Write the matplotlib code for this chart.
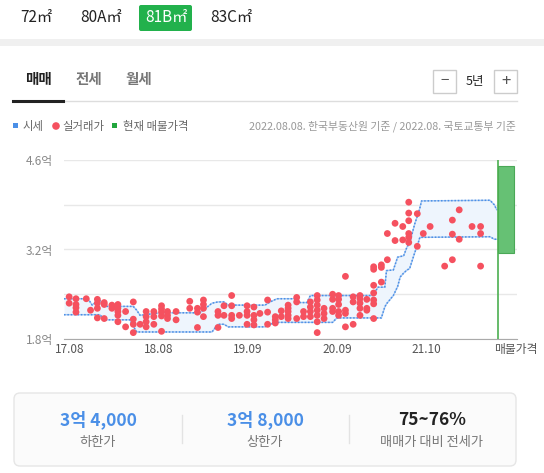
import numpy as np
import matplotlib
matplotlib.use("Agg")
import matplotlib.pyplot as plt
from matplotlib.patches import Rectangle, FancyBboxPatch

plt.rcParams['font.family'] = ['Noto Sans CJK KR', 'DejaVu Sans']

W, H = 544, 473

# area tabs
area_tabs = ['72㎡', '80A㎡', '81B㎡', '83C㎡']
selected_area = '81B㎡'
trade_tabs = ['매매', '전세', '월세']

# x ticks
tick_labels = ['17.08', '18.08', '19.09', '20.09', '21.10']
start_year = 2017.6   # 2017.08.08
tick_step_days = 380
end_year = 2022.6     # 2022.08.08

# 시세 band (억)
band_year = [2017.53, 2017.81, 2017.86, 2017.92, 2017.95, 2018.00, 2018.30, 2018.34,
             2018.38, 2018.42, 2018.65, 2019.12, 2019.26, 2019.33, 2019.40, 2019.45,
             2019.88, 2019.94, 2020.02, 2020.23, 2020.29, 2020.37, 2020.41, 2020.67,
             2020.72, 2021.14, 2021.20, 2021.24, 2021.28, 2021.30, 2021.38, 2021.43,
             2021.46, 2021.50, 2021.54, 2021.57, 2021.63, 2021.67, 2021.69, 2021.71,
             2022.51, 2022.56, 2022.59]
band_upper = [2.43, 2.43, 2.33, 2.40, 2.40, 2.31, 2.31, 2.31,
              2.25, 2.17, 2.21, 2.21, 2.36, 2.38, 2.38, 2.33,
              2.33, 2.38, 2.43, 2.43, 2.37, 2.37, 2.48, 2.48,
              2.48, 2.48, 2.61, 2.61, 2.61, 2.87, 2.88, 3.08,
              3.09, 3.10, 3.24, 3.30, 3.60, 3.76, 3.85, 3.96,
              3.97, 3.90, 3.82]
band_lower = [2.18, 2.18, 2.18, 2.18, 2.18, 2.10, 2.10, 2.00,
              1.91, 1.91, 1.91, 1.91, 1.91, 2.03, 2.03, 1.99,
              1.99, 2.03, 2.06, 2.06, 2.06, 2.06, 2.06, 2.06,
              2.13, 2.13, 2.13, 2.13, 2.30, 2.35, 2.48, 2.62,
              2.77, 2.83, 2.88, 2.90, 3.15, 3.30, 3.39, 3.39,
              3.40, 3.36, 3.36]

# 실거래가 (억)
deal_year = (
    [2017.59] * 2 + [2017.67] * 4 + [2017.79] + [2017.84] + [2017.92] * 4 +
    [2018.00] * 3 + [2018.09] * 2 + [2018.16] * 5 + [2018.25] * 2 + [2018.34] * 4 +
    [2018.42] + [2018.49] * 4 + [2018.58] * 3 + [2018.67] * 5 + [2018.74] * 3 +
    [2018.84] * 2 + [2019.00] * 2 + [2019.09] * 3 + [2019.16] * 4 + [2019.33] * 3 +
    [2019.40] * 2 + [2019.49] * 4 + [2019.58] + [2019.67] * 4 + [2019.75] * 4 +
    [2019.82] + [2019.91] * 3 + [2020.00] * 3 + [2020.07] * 2 + [2020.15] * 5 +
    [2020.25] * 3 + [2020.33] * 2 + [2020.41] * 4 + [2020.49] * 7 + [2020.57] * 3 +
    [2020.67] * 4 + [2020.74] * 5 + [2020.82] * 4 + [2020.91] * 3 + [2020.99] * 5 +
    [2021.07] * 3 + [2021.15] * 7 + [2021.24] * 3 + [2021.31] * 2 + [2021.40] * 2 +
    [2021.49] * 2 + [2021.56] * 6 + [2021.66] * 2 + [2021.73] + [2021.81] +
    [2021.98] + [2022.07] * 3 + [2022.15] * 2 + [2022.30] + [2022.40] * 3
)
deal_price = [
    2.46, 2.36, 2.43, 2.34, 2.29, 2.22, 2.43, 2.25, 2.42, 2.36, 2.28, 2.13,
    2.37, 2.34, 2.12, 2.33, 2.28, 2.34, 2.28, 2.23, 2.17, 2.07, 2.23, 1.99, 2.38, 2.11, 2.03, 1.90,
    2.03, 2.23, 2.15, 2.07, 1.99, 2.23, 2.15, 2.03, 2.32, 2.27, 2.22, 2.16, 1.92, 2.23, 2.17, 2.12,
    2.23, 2.10, 2.39, 2.28, 2.28, 2.22, 1.98, 2.41, 2.34, 2.28, 2.15, 2.23, 2.17, 1.98,
    2.32, 2.17, 2.48, 2.32, 2.17, 2.12, 2.17, 2.32, 2.23, 2.17, 2.03, 2.30, 2.17, 2.10, 2.02,
    2.20, 2.41, 2.22, 2.03, 2.15, 2.10, 2.05, 2.24, 2.15, 2.33, 2.28, 2.23, 2.17, 2.12,
    2.45, 2.38, 2.12, 2.23, 2.15, 2.38, 2.30, 2.23, 2.15, 2.48, 2.41, 2.33, 2.25, 2.17, 2.07, 1.90,
    2.28, 2.20, 2.12, 2.50, 2.42, 2.28, 2.23, 2.48, 2.42, 2.34, 2.23, 2.17, 2.78, 2.25, 2.20, 1.99,
    2.46, 2.38, 2.03, 2.48, 2.43, 2.36, 2.28, 2.17,
    2.42, 2.28, 2.25, 2.93, 2.89, 2.64, 2.52, 2.41, 2.35, 2.12, 2.96, 2.92, 2.69,
    3.45, 3.04, 3.61, 3.34, 3.56, 3.35, 3.94, 3.77, 3.65, 3.45, 3.39, 3.31, 3.76, 3.25,
    3.45, 3.56, 2.94, 3.66, 3.44, 3.04, 3.82, 3.36, 3.56, 3.56, 3.45, 2.94,
]

# 현재 매물가격 (억)
listing_low, listing_high = 3.15, 4.50

# summary
summary_values = ['3억 4,000', '3억 8,000', '75~76%']
summary_labels = ['하한가', '상한가', '매매가 대비 전세가']
summary_colors = ['#4a8fe7', '#4a8fe7', '#222222']

fig = plt.figure(figsize=(W / 100, H / 100), dpi=100)

# background layer in pixel coords
bg = fig.add_axes([0, 0, 1, 1])
bg.set_xlim(0, W)
bg.set_ylim(H, 0)
bg.axis('off')

# area tabs
tab_x = [36, 101, 166, 231]
for x, lab in zip(tab_x, area_tabs):
    if lab == selected_area:
        bg.add_patch(FancyBboxPatch((139, 5), 53, 26, boxstyle="round,pad=0,rounding_size=2",
                                    fc='#22b14c', ec='none'))
        bg.text(x, 18, lab, ha='center', va='center', fontsize=11, color='white')
    else:
        bg.text(x, 18, lab, ha='center', va='center', fontsize=11, color='#222222')
bg.add_patch(Rectangle((0, 39), W, 7, fc='#f0f0f0', ec='none'))

# trade tabs
for x, lab in zip([38, 89, 139], trade_tabs):
    if lab == '매매':
        bg.text(x, 79, lab, ha='center', va='center', fontsize=10.5, weight='bold', color='#222222')
    else:
        bg.text(x, 79, lab, ha='center', va='center', fontsize=10.5, weight='bold', color='#777777')
bg.plot([63, 517], [101, 101], color='#dddddd', lw=1)
bg.plot([13, 63], [101, 101], color='#222222', lw=2.2)

# period control
bg.add_patch(Rectangle((433, 70), 23, 23, fc='white', ec='#cccccc', lw=1))
bg.add_patch(Rectangle((494, 70), 23, 23, fc='white', ec='#cccccc', lw=1))
bg.text(444.5, 81, '−', ha='center', va='center', fontsize=11, color='#555555')
bg.text(505.5, 81, '+', ha='center', va='center', fontsize=12, color='#555555')
bg.text(475, 81, '5년', ha='center', va='center', fontsize=9, color='#222222')

# legend row
bg.add_patch(Rectangle((13, 123), 5, 5, fc='#4a8fe7', ec='none'))
bg.text(23, 126, '시세', ha='left', va='center', fontsize=8.2, color='#666666')
bg.scatter([56], [126], s=30, color='#f5515f', edgecolor='none')
bg.text(62, 126, '실거래가', ha='left', va='center', fontsize=8.2, color='#666666')
bg.add_patch(Rectangle((112, 123), 5, 5, fc='#22a63d', ec='none'))
bg.text(123, 126, '현재 매물가격', ha='left', va='center', fontsize=8.2, color='#666666')
bg.text(516, 126, '2022.08.08. 한국부동산원 기준 / 2022.08. 국토교통부 기준',
        ha='right', va='center', fontsize=7.8, color='#999999')

# summary box
bg.add_patch(FancyBboxPatch((14, 393), 502, 73, boxstyle="round,pad=0,rounding_size=6",
                            fc='#fbfbfb', ec='#e6e6e6', lw=1))
for x, v, lab, c in zip([98, 265, 432], summary_values, summary_labels, summary_colors):
    bg.text(x, 420, v, ha='center', va='center', fontsize=12.5, weight='bold', color=c)
    bg.text(x, 442, lab, ha='center', va='center', fontsize=9.5, color='#777777')
for x in [182, 349]:
    bg.plot([x, x], [415, 443], color='#e3e3e3', lw=1)

# chart
x0 = start_year - 6 / 85.54
x1 = start_year + 447 / 85.54
ax = fig.add_axes([64 / W, 1 - 339 / H, 453 / W, 179 / H])
ax.set_xlim(x0, x1)
ax.set_ylim(1.8, 4.6)

ax.fill_between(band_year, band_lower, band_upper, color='#eef5fd', lw=0, zorder=1)
ax.plot(band_year, band_upper, color='#a9c8f0', lw=1, zorder=2)
ax.plot(band_year, band_lower, color='#a9c8f0', lw=1, zorder=2)
ax.plot(band_year, band_upper, color='#4a8fe7', lw=1.1, ls=(0, (1, 1.2)), zorder=3)
ax.plot(band_year, band_lower, color='#4a8fe7', lw=1.1, ls=(0, (1, 1.2)), zorder=3)

ax.scatter(deal_year, deal_price, s=24, color='#f5515f', edgecolor='none', zorder=4)

bar_w = x1 - end_year - 0.03
ax.bar(end_year, listing_high - listing_low, bottom=listing_low, width=bar_w, align='edge',
       color='#66c174', edgecolor='#4aa857', lw=0.8, zorder=4)
ax.axvline(end_year, color='#4caf50', lw=1.2, zorder=5)

ticks = [start_year + k * tick_step_days / 365.25 for k in range(len(tick_labels))]
ax.set_xticks(ticks + [x1 - 0.02])
ax.set_xticklabels(tick_labels + ['매물가격'], fontsize=8.5, color='#555555')
ax.set_yticks([1.8, 2.5, 3.2, 3.9, 4.6])
ax.set_yticklabels(['1.8억', '', '3.2억', '', '4.6억'], fontsize=8.5, color='#888888')
ax.tick_params(length=0, pad=3)
ax.tick_params(axis='y', pad=8)
ax.grid(axis='y', color='#e8e8e8', lw=1, zorder=0)
ax.set_axisbelow(True)
for side in ['top', 'right', 'left']:
    ax.spines[side].set_visible(False)
ax.spines['bottom'].set_color('#aaaaaa')
ax.patch.set_alpha(0)

fig.savefig('out.png', dpi=100)
